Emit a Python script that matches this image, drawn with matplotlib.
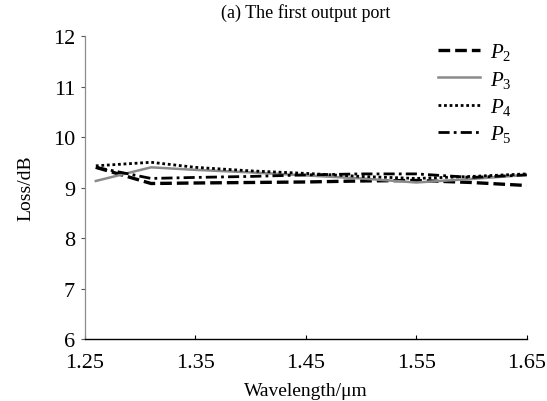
import matplotlib.pyplot as plt

plt.rcParams['font.family'] = 'Liberation Serif'
plt.rcParams['mathtext.fontset'] = 'custom'
plt.rcParams['mathtext.rm'] = 'Liberation Serif'
plt.rcParams['mathtext.it'] = 'Liberation Serif:italic'

# wavelength samples (um) and insertion loss (dB) for each port
wavelength = [1.26, 1.31, 1.35, 1.40, 1.45, 1.50, 1.55, 1.60, 1.65]
loss_p2 = [9.40, 9.08, 9.09, 9.10, 9.11, 9.13, 9.14, 9.10, 9.04]
loss_p3 = [9.13, 9.40, 9.35, 9.30, 9.24, 9.18, 9.10, 9.17, 9.25]
loss_p4 = [9.43, 9.50, 9.40, 9.33, 9.28, 9.22, 9.18, 9.22, 9.27]
loss_p5 = [9.40, 9.18, 9.20, 9.22, 9.25, 9.27, 9.27, 9.20, 9.25]

x_ticks = [1.25, 1.35, 1.45, 1.55, 1.65]
y_ticks = [6, 7, 8, 9, 10, 11, 12]

fig = plt.figure(figsize=(5.47, 4.02), dpi=100)
ax = fig.add_axes([0.155, 0.154, 0.808, 0.754])

ax.plot(wavelength, loss_p2, color='black', lw=2.4, linestyle=(0, (3.5, 1.5)), label='$P_2$')
ax.plot(wavelength, loss_p3, color='#8a8a8a', lw=1.8, linestyle='-', label='$P_3$')
ax.plot(wavelength, loss_p4, color='black', lw=2.0, linestyle=(0, (1, 1)), label='$P_4$')
ax.plot(wavelength, loss_p5, color='black', lw=2.0, linestyle=(0, (4, 1.5, 1, 1.5)), label='$P_5$')

ax.set_xlim(1.25, 1.65)
ax.set_ylim(6, 12)
ax.set_xticks(x_ticks)
ax.set_xticklabels([f'{t:.2f}' for t in x_ticks])
ax.set_yticks(y_ticks)

ax.spines['top'].set_visible(False)
ax.spines['right'].set_visible(False)
ax.spines['left'].set_color('#8c8c8c')
ax.spines['left'].set_linewidth(0.9)
ax.spines['bottom'].set_color('black')
ax.spines['bottom'].set_linewidth(1.0)

ax.tick_params(axis='y', direction='out', length=3, width=0.8, color='#555555', labelsize=16, pad=4)
ax.tick_params(axis='x', direction='in', length=3, width=0.8, labelsize=16, pad=10)

ax.set_xlabel('Wavelength/\u03bcm', fontsize=14, labelpad=7)
ax.set_ylabel('Loss/dB', fontsize=14, labelpad=13)
ax.set_title('(a) The first output port', fontsize=13, pad=14)

ax.legend(loc='upper right', frameon=False, fontsize=15, handlelength=2.0,
          handletextpad=0.5, labelspacing=0.3, borderaxespad=0.3,
          bbox_to_anchor=(1.0, 1.03))

fig.savefig('out.png', dpi=100)
